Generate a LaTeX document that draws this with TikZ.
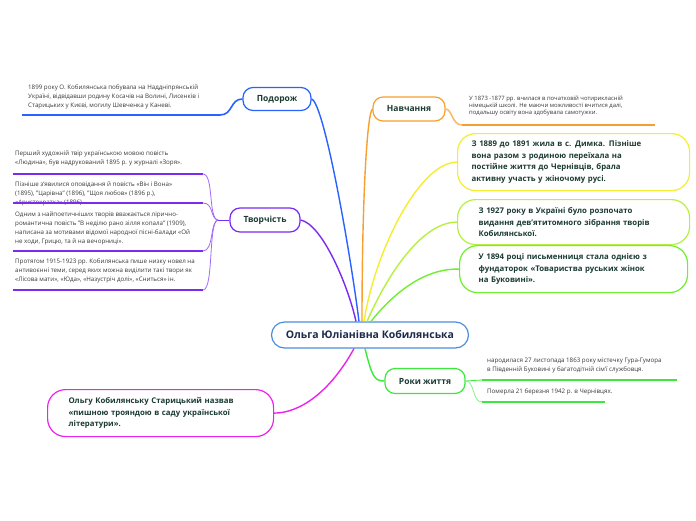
\documentclass[tikz,border=0pt]{standalone}
\usepackage{fontspec}
\setmainfont{Open Sans}
\definecolor{cblue}{HTML}{2962FF}
\definecolor{cpurple}{HTML}{7A2BF0}
\definecolor{corange}{HTML}{F7A030}
\definecolor{cyellow}{HTML}{F5EE30}
\definecolor{clime}{HTML}{B8F040}
\definecolor{cgreen}{HTML}{70EE30}
\definecolor{cgreen2}{HTML}{3CE83C}
\definecolor{cmag}{HTML}{EE22EE}
\definecolor{ccentral}{HTML}{4A90D9}
\definecolor{ctext}{HTML}{1B3B33}
\definecolor{cnavy}{HTML}{1A2B4C}
\definecolor{cleaf}{HTML}{3A3A3A}
\tikzset{
  topic/.style={draw, line width=1.2pt, fill=white, rounded corners=10pt, inner sep=0pt,
    font=\fontsize{8.5}{10}\selectfont\bfseries, text=ctext},
  bigbox/.style={draw, line width=1.2pt, fill=white, rounded corners=18pt, inner ysep=0pt,
    align=left, anchor=north west, font=\fontsize{7.8}{11.5}\selectfont\bfseries, text=ctext},
  leaf/.style={anchor=north west, inner sep=0pt, align=left,
    font=\fontsize{6.2}{9}\selectfont, text=cleaf},
  branch/.style={line width=1.4pt},
  uline/.style={line width=1.6pt},
}
\begin{document}
\begin{tikzpicture}[x=1pt,y=-1pt]
\useasboundingbox (0,0) rectangle (696,520);
\fill[white] (0,0) rectangle (696,520);

% central
\node[draw=ccentral, line width=1.2pt, fill=white, rounded corners=13pt, minimum width=197pt,
  minimum height=26pt, font=\fontsize{10.5}{12}\selectfont\bfseries, text=cnavy] (c) at (370,335)
  {Ольга Юліанівна Кобилянська};

% topics
\node[topic, draw=cblue, minimum width=68pt, minimum height=23pt] (pod) at (277,99) {Подорож};
\node[topic, draw=corange, minimum width=72pt, minimum height=24pt] (nav) at (409,109) {Навчання};
\node[topic, draw=cpurple, minimum width=70pt, minimum height=24pt] (tv) at (265,220) {Творчість};
\node[topic, draw=cgreen2, minimum width=80pt, minimum height=25pt] (rok) at (425,381) {Роки життя};

% big boxes
\node[bigbox, draw=cyellow, inner xsep=14pt, text width=204pt, minimum height=57pt] (yel) at (457,133)
  {З 1889 до 1891 жила в с. Димка. Пізніше\\вона разом з родиною переїхала на\\постійне життя до Чернівців, брала\\активну участь у жіночому русі.};
\node[bigbox, draw=clime, inner xsep=21pt, text width=190pt, minimum height=45pt] (lime) at (457,199)
  {З 1927 року в Україні було розпочато\\видання дев’ятитомного зібрання творів\\Кобилянської.};
\node[bigbox, draw=cgreen, inner xsep=19pt, text width=190pt, minimum height=47pt] (grn) at (459,245)
  {У 1894 році письменниця стала однією з\\фундаторок «Товариства руських жінок\\на Буковині».};
\node[bigbox, draw=cmag, inner xsep=21pt, text width=184pt, minimum height=47pt] (mag) at (47,389)
  {Ольгу Кобилянську Старицький назвав\\«пишною трояндою в саду української\\літератури».};

% main branches
\draw[branch, cblue] (pod.east) .. controls (324,103) and (350,250) .. ([xshift=-11pt]c.north);
\draw[branch, cpurple] (tv.east) .. controls (322,224) and (348,285) .. ([xshift=-14pt]c.north);
\draw[branch, corange] (nav.west) .. controls (367,114) and (362,200) .. ([xshift=-8pt]c.north);
\draw[branch, cyellow] (yel.west) .. controls (420,162) and (375,250) .. ([xshift=-6pt]c.north);
\draw[branch, clime] (lime.west) .. controls (420,222) and (385,280) .. ([xshift=-3pt]c.north);
\draw[branch, cgreen] (grn.west) .. controls (420,268) and (388,300) .. ([xshift=1pt]c.north);
\draw[branch, cmag] ([xshift=-16pt]c.south) .. controls (330,392) and (300,413) .. (mag.east);
\draw[branch, cgreen2] ([xshift=-5pt]c.south) .. controls (372,376) and (374,381) .. (rok.west);

% Подорож leaf
\node[leaf] (podt) at (28,85)
  {1899 року О. Кобилянська побувала на Наддніпрянській\\Україні, відвідавши родину Косачів на Волині, Лисенків і\\Старицьких у Києві, могилу Шевченка у Каневі.};
\coordinate (pa) at (22,115);
\coordinate (pb) at (220,115);
\draw[uline, cblue] (pa) -- (pb) .. controls (233,115) and (230,99) .. (pod.west);

% Навчання leaf
\node[leaf, font=\fontsize{5.9}{7}\selectfont] (navt) at (469,96)
  {У 1873 -1877 рр. вчилася в початковій чотирикласній\\німецькій школі. Не маючи можливості вчитися далі,\\подальшу освіту вона здобувала самотужки.};
\coordinate (na) at (462,125);
\coordinate (nb) at (655,125);
\draw[uline, corange!70] (nav.east) .. controls (452,109) and (452,125) .. (na);
\draw[uline, corange] (na) -- (nb);

% Творчість leaves
\node[leaf] (t1) at (15,151)
  {Перший художній твір українською мовою повість\\«Людина», був надрукований 1895 р. у журналі «Зоря».};
\node[leaf] (t2) at (15,182)
  {Пізніше з’явилися оповідання й повість «Він і Вона»\\(1895), "Царівна" (1896), "Щоя любов» (1896 р.),\\«Аристократка» (1896).};
\node[leaf] (t3) at (15,212)
  {Одним з найпоетичніших творів вважається лірично-\\романтична повість "В неділю рано зілля копала" (1909),\\написана за мотивами відомої народної пісні-балади «Ой\\не ходи, Грицю, та й на вечорниці».};
\node[leaf] (t4) at (15,259)
  {Протягом 1915-1923 рр. Кобилянська пише низку новел на\\антивоєнні теми, серед яких можна виділити такі твори як\\«Лісова мати», «Юда», «Назустріч долі», «Сниться» ін.};
\coordinate (tj) at (218,220);
\coordinate (u1a) at (13,174);  \coordinate (u1b) at (203,174);
\coordinate (u2a) at (13,203);  \coordinate (u2b) at (203,203);
\coordinate (u3a) at (13,251);  \coordinate (u3b) at (203,251);
\coordinate (u4a) at (13,290);  \coordinate (u4b) at (203,290);
\draw[uline, cpurple] (u1a) -- (u1b);
\draw[uline, cpurple] (u2a) -- (u2b);
\draw[uline, cpurple] (u3a) -- (u3b);
\draw[uline, cpurple] (u4a) -- (u4b);
\draw[line width=0.8pt, cpurple!70] (u1b) .. controls (214,174) and (208,219) .. (tj);
\draw[line width=0.8pt, cpurple!70] (u2b) .. controls (214,203) and (210,219) .. (tj);
\draw[line width=0.8pt, cpurple!70] (u3b) .. controls (214,251) and (210,221) .. (tj);
\draw[line width=0.8pt, cpurple!70] (u4b) .. controls (214,290) and (208,221) .. (tj);
\draw[line width=1pt, cpurple] (tj) -- (tv.west);

% Роки життя leaves
\node[leaf] (r1) at (487,358)
  {народилася 27 листопада 1863 року містечку Гура-Гумора\\в Південній Буковині у багатодітній сім’ї службовця.};
\node[leaf] (r2) at (487,389) {Померла 21 березня 1942 р. в Чернівцях.};
\coordinate (ra) at (482,380); \coordinate (rb) at (677,380);
\coordinate (rc) at (482,402); \coordinate (rd) at (605,402);
\draw[uline, cgreen2] (ra) -- (rb);
\draw[uline, cgreen2] (rc) -- (rd);
\draw[line width=0.8pt, cgreen2] (rok.east) -- (ra);
\draw[line width=0.8pt, cgreen2!60] (rok.east) .. controls (475,381) and (472,402) .. (rc);
\end{tikzpicture}
\end{document}
